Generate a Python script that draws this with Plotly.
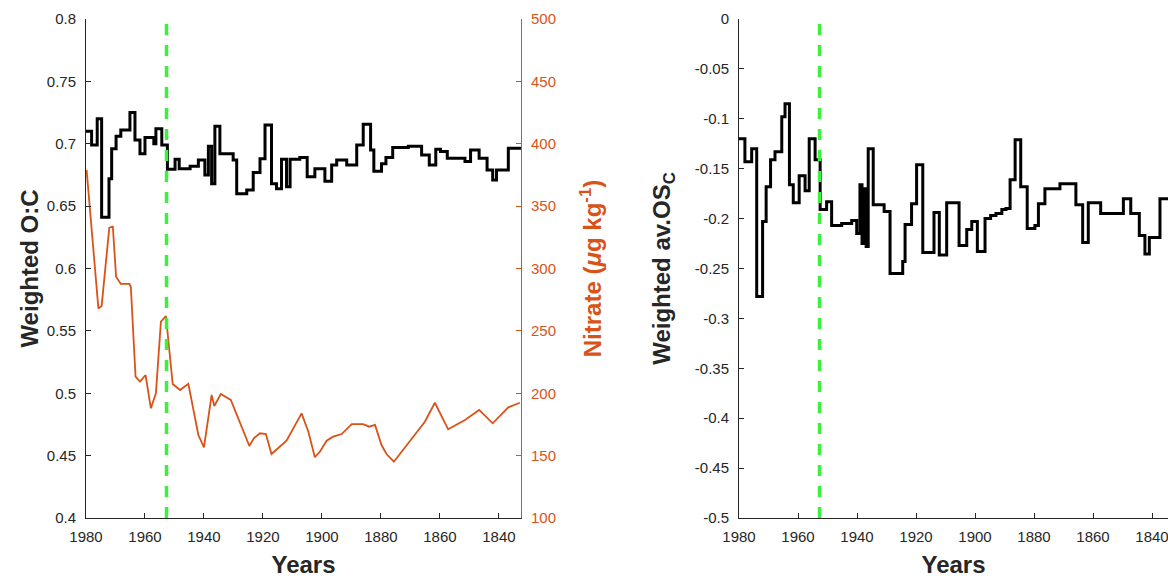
import plotly.graph_objects as go

# ---------------- data ----------------
oc_years = [1980.0, 1978.1, 1976.2, 1974.7, 1972.2, 1971.3, 1969.8, 1968.2, 1965.1, 1963.4,
            1961.7, 1960.0, 1957.0, 1956.3, 1954.3, 1952.4, 1949.8, 1948.4, 1944.7, 1941.9,
            1939.7, 1938.5, 1937.4, 1936.3, 1934.6, 1930.1, 1928.9, 1925.5, 1923.3, 1921.0,
            1919.3, 1917.1, 1915.4, 1913.7, 1912.0, 1910.8, 1907.5, 1905.0, 1902.4, 1899.0,
            1896.7, 1895.0, 1891.6, 1888.2, 1886.0, 1883.5, 1882.4, 1879.8, 1878.3, 1876.0,
            1870.7, 1866.2, 1863.6, 1861.4, 1859.8, 1857.5, 1851.5, 1849.6, 1846.7, 1844.0,
            1842.1, 1840.8, 1836.8, 1832.5]
oc_values = [0.710, 0.699, 0.720, 0.641, 0.672, 0.696, 0.706, 0.711, 0.725, 0.703,
             0.692, 0.705, 0.700, 0.712, 0.699, 0.6795, 0.6875, 0.680, 0.682, 0.687,
             0.675, 0.698, 0.668, 0.714, 0.692, 0.687, 0.660, 0.663, 0.677, 0.688,
             0.715, 0.668, 0.664, 0.6875, 0.6656, 0.6875, 0.689, 0.6736, 0.680, 0.670,
             0.683, 0.687, 0.683, 0.699, 0.7156, 0.695, 0.678, 0.684, 0.689, 0.697,
             0.698, 0.691, 0.683, 0.6955, 0.6937, 0.6883, 0.6857, 0.695, 0.6883, 0.679,
             0.671, 0.679, 0.6963, 0.6963]

nitrate_years = [1979.8, 1975.8, 1974.7, 1972.1, 1970.9, 1969.8, 1968.2, 1965.3, 1964.8, 1963.2,
                 1961.7, 1959.8, 1958.0, 1956.3, 1954.6, 1952.9, 1950.6, 1948.1, 1945.3, 1941.9,
                 1940.0, 1937.4, 1936.5, 1934.3, 1930.9, 1924.6, 1923.1, 1921.0, 1919.0, 1917.1,
                 1912.0, 1906.9, 1904.6, 1902.4, 1900.7, 1898.4, 1896.2, 1893.3, 1889.9, 1886.0,
                 1884.0, 1882.0, 1879.8, 1878.1, 1875.6, 1865.1, 1861.7, 1857.2, 1851.5, 1846.7,
                 1842.1, 1836.8, 1832.9]
nitrate_values = [379, 268, 270, 332.7, 333.5, 293.4, 287.6, 287.6, 285.4, 213.3,
                  209.3, 214.6, 187.9, 200.0, 257.4, 261.9, 207.4, 202.6, 207.6, 166.5,
                  156.7, 198.6, 189.8, 199.4, 194.6, 157.7, 163.9, 167.9, 167.3, 151.3,
                  162.0, 183.9, 169.2, 148.7, 153.2, 162.0, 165.2, 167.3, 175.3, 175.3,
                  173.2, 174.6, 158.5, 151.3, 145.1, 177.2, 192.4, 171.1, 178.6, 186.6,
                  175.9, 188.7, 192.4]

osc_years = [1980.0, 1978.0, 1975.7, 1974.0, 1972.0, 1970.8, 1969.3, 1967.8, 1965.5, 1964.4,
             1962.9, 1961.6, 1959.6, 1957.6, 1956.2, 1954.2, 1952.5, 1950.3, 1948.6, 1945.2,
             1941.8, 1940.1, 1939.0, 1938.3, 1937.6, 1936.9, 1936.2, 1934.5, 1930.8, 1928.8,
             1924.5, 1923.7, 1921.5, 1919.8, 1917.7, 1913.9, 1912.1, 1909.6, 1905.4, 1902.8,
             1901.1, 1899.2, 1896.6, 1894.7, 1892.9, 1890.9, 1889.5, 1888.1, 1886.4, 1884.5,
             1882.3, 1879.7, 1878.5, 1876.3, 1871.2, 1865.8, 1863.5, 1861.6, 1857.4, 1849.7,
             1847.2, 1844.3, 1842.4, 1840.9, 1837.3, 1832.5]
osc_values = [-0.120, -0.143, -0.130, -0.278, -0.203, -0.168, -0.141, -0.133, -0.098, -0.085,
              -0.166, -0.184, -0.157, -0.172, -0.120, -0.141, -0.191, -0.183, -0.207, -0.205,
              -0.202, -0.215, -0.166, -0.225, -0.170, -0.228, -0.130, -0.186, -0.193, -0.255,
              -0.243, -0.206, -0.185, -0.146, -0.234, -0.194, -0.2365, -0.184, -0.227, -0.211,
              -0.203, -0.233, -0.200, -0.197, -0.195, -0.191, -0.190, -0.161, -0.121, -0.168,
              -0.210, -0.207, -0.185, -0.170, -0.165, -0.186, -0.224, -0.184, -0.195, -0.180,
              -0.195, -0.217, -0.2355, -0.219, -0.180, -0.180]

marker_year = 1952.7

year_ticks = [1980, 1960, 1940, 1920, 1900, 1880, 1860, 1840]
year_labels = ["1980", "1960", "1940", "1920", "1900", "1880", "1860", "1840"]
oc_ticks = [0.4, 0.45, 0.5, 0.55, 0.6, 0.65, 0.7, 0.75, 0.8]
oc_labels = ["0.4", "0.45", "0.5", "0.55", "0.6", "0.65", "0.7", "0.75", "0.8"]
nitrate_ticks = [100, 150, 200, 250, 300, 350, 400, 450, 500]
nitrate_labels = ["100", "150", "200", "250", "300", "350", "400", "450", "500"]
osc_ticks = [-0.5, -0.45, -0.4, -0.35, -0.3, -0.25, -0.2, -0.15, -0.1, -0.05, 0]
osc_labels = ["-0.5", "-0.45", "-0.4", "-0.35", "-0.3", "-0.25", "-0.2", "-0.15", "-0.1", "-0.05", "0"]

# ---------------- figure ----------------
W, H = 1168, 578
AX = "#262626"
ORANGE = "#D95319"
GREEN = "#3CF03C"
FONT = "Liberation Sans, Arial, Helvetica, sans-serif"

fig = go.Figure()
fig.add_trace(go.Scatter(x=oc_years, y=oc_values, mode="lines", line=dict(shape="hv", color="black", width=3),
                         xaxis="x", yaxis="y", showlegend=False))
fig.add_trace(go.Scatter(x=nitrate_years, y=nitrate_values, mode="lines", line=dict(color=ORANGE, width=1.8),
                         xaxis="x", yaxis="y2", showlegend=False))
fig.add_trace(go.Scatter(x=osc_years, y=osc_values, mode="lines", line=dict(shape="hv", color="black", width=3),
                         xaxis="x2", yaxis="y3", showlegend=False))

for xr, yr in (("x", "y domain"), ("x2", "y3 domain")):
    fig.add_shape(type="line", xref=xr, yref=yr, x0=marker_year, x1=marker_year, y0=0, y1=1,
                  line=dict(color=GREEN, width=3.5, dash="11px,10px"), layer="above")

ydom = [60 / H, 559 / H]
common_x = dict(tickmode="array", tickvals=year_ticks, ticktext=year_labels, ticks="inside", ticklen=5,
                tickcolor=AX, showline=True, linecolor=AX, linewidth=1, showgrid=False, zeroline=False,
                tickfont=dict(family=FONT, size=15, color=AX), automargin=False, ticklabelstandoff=5,
                ticklabeloverflow="allow",
                title=dict(text="<b>Years</b>", font=dict(family=FONT, size=24, color=AX), standoff=13))
common_y = dict(ticks="inside", ticklen=5, showline=True, linewidth=1, showgrid=False, zeroline=False,
                automargin=False, domain=ydom, tickmode="array", ticklabelstandoff=6)

fig.update_layout(
    width=W, height=H, margin=dict(l=0, r=0, t=0, b=0),
    paper_bgcolor="white", plot_bgcolor="white",
    xaxis=dict(domain=[86 / W, 521 / W], range=[1980, 1832.5], anchor="y", **common_x),
    xaxis2=dict(domain=[739 / W, 1.0], range=[1980, 1980 - (1168 - 739) / 2.95], anchor="y3", **common_x),
    yaxis=dict(range=[0.4, 0.8], tickvals=oc_ticks, ticktext=oc_labels, anchor="x",
               tickcolor=AX, linecolor=AX, tickfont=dict(family=FONT, size=15, color=AX),
               title=dict(text="<b>Weighted O:C</b>", font=dict(family=FONT, size=24, color=AX), standoff=1),
               **common_y),
    yaxis2=dict(range=[100, 500], tickvals=nitrate_ticks, ticktext=nitrate_labels, anchor="x",
                overlaying="y", side="right",
                tickcolor=ORANGE, linecolor=ORANGE, tickfont=dict(family=FONT, size=15, color=ORANGE),
                title=dict(text="<b>Nitrate (<i>μ</i>g kg<sup>-1</sup>)</b>",
                           font=dict(family=FONT, size=24, color=ORANGE), standoff=29),
                **common_y),
    yaxis3=dict(range=[-0.5, 0], tickvals=osc_ticks, ticktext=osc_labels, anchor="x2",
                tickcolor=AX, linecolor=AX, tickfont=dict(family=FONT, size=15, color=AX),
                title=dict(text="<b>Weighted av.OS<sub>C</sub></b>", font=dict(family=FONT, size=24, color=AX),
                           standoff=17),
                **common_y),
)

fig.write_html("out.html")
